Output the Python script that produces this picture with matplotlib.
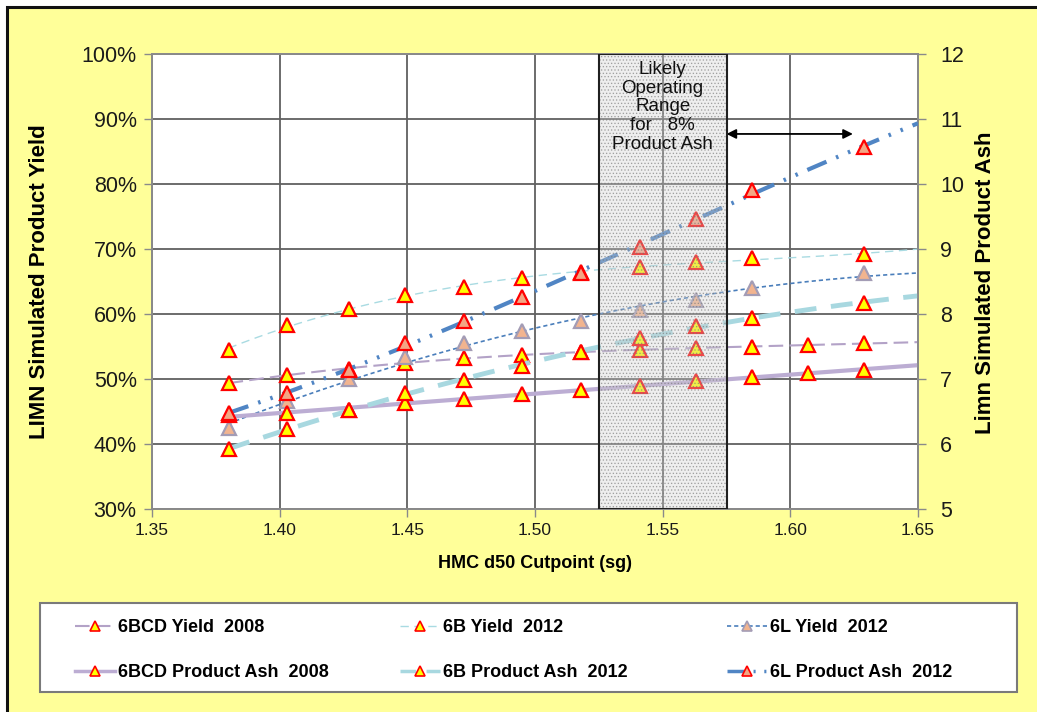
import numpy as np
import matplotlib
matplotlib.use('Agg')
import matplotlib.pyplot as plt
from matplotlib.lines import Line2D
from matplotlib.patches import Rectangle
from matplotlib.ticker import FuncFormatter

plt.rcParams['font.family'] = ['Liberation Sans', 'DejaVu Sans']
plt.rcParams['hatch.linewidth'] = 0.6

# ---------------- data ----------------
x_2008 = [1.380, 1.403, 1.427, 1.449, 1.472, 1.495, 1.518, 1.541, 1.563, 1.585, 1.607, 1.629]
x_2012 = [1.380, 1.403, 1.427, 1.449, 1.472, 1.495, 1.518, 1.541, 1.563, 1.585, 1.629]

bcd_yield_2008 = [49.4, 50.6, 51.5, 52.5, 53.2, 53.7, 54.2, 54.5, 54.8, 54.9, 55.2, 55.5]
bcd_ash_2008 = [6.44, 6.48, 6.52, 6.63, 6.69, 6.77, 6.83, 6.89, 6.97, 7.03, 7.09, 7.14]
b_yield_2012 = [54.5, 58.3, 60.8, 62.9, 64.2, 65.5, 66.4, 67.2, 68.0, 68.6, 69.2]
b_ash_2012 = [5.92, 6.23, 6.52, 6.78, 6.98, 7.20, 7.42, 7.63, 7.82, 7.94, 8.17]
l_yield_2012 = [42.4, 46.6, 50.0, 53.4, 55.5, 57.4, 58.9, 60.6, 62.2, 64.0, 66.3]
l_ash_2012 = [6.48, 6.78, 7.14, 7.55, 7.89, 8.26, 8.63, 9.03, 9.46, 9.91, 10.57]

series_labels = ['6BCD Yield  2008', '6BCD Product Ash  2008',
                 '6B Yield  2012', '6B Product Ash  2012',
                 '6L Yield  2012', '6L Product Ash  2012']

y_ticks_left = [30, 40, 50, 60, 70, 80, 90, 100]
y_ticks_right = [5, 6, 7, 8, 9, 10, 11, 12]
x_ticks = [1.35, 1.40, 1.45, 1.50, 1.55, 1.60, 1.65]

range_lo, range_hi = 1.525, 1.575
range_text = 'Likely\nOperating\nRange\nfor   8%\nProduct Ash'
arrow_x = (1.575, 1.6245)
arrow_y = 87.7

# ---------------- styles ----------------
YEL, RED = '#ffff00', '#ff0000'
styles = {
    '6BCD Yield  2008': dict(color='#b3a2c7', lw=1.5, dashes=(7, 3), mfc=YEL, mec=RED, deg=3),
    '6BCD Product Ash  2008': dict(color='#bcadd3', lw=3.0, dashes=None, mfc=YEL, mec=RED, deg=2),
    '6B Yield  2012': dict(color='#a9dbe2', lw=1.0, dashes=(6, 4), mfc=YEL, mec=RED, deg=3),
    '6B Product Ash  2012': dict(color='#a8d8e0', lw=3.5, dashes=(4.5, 3), mfc=YEL, mec=RED, deg=2),
    '6L Yield  2012': dict(color='#4a7ebb', lw=1.2, dashes=(2.5, 1.8), mfc='#f2b48f', mec='#a39cb5', deg=2),
    '6L Product Ash  2012': dict(color='#5085c4', lw=3.0, dashes=(5, 2.5, 0.6, 2.5, 0.6, 2.5), mfc='#f3a684', mec=RED, deg=3),
}

W, H = 1037, 712
fig = plt.figure(figsize=(W / 100, H / 100), dpi=100)
fig.patch.set_facecolor('white')
bg = Rectangle((7 / W, -0.05), 1.2, 1 - 7 / H + 0.05, transform=fig.transFigure,
               facecolor='#ffff99', edgecolor='#111111', lw=2.2, zorder=-10)
fig.add_artist(bg)

ax = fig.add_axes([152 / W, 1 - 509 / H, (918 - 152) / W, (509 - 54) / H])
ax.set_facecolor('white')
ax2 = ax.twinx()

ax.set_xlim(1.35, 1.65)
ax.set_ylim(30, 100)
ax2.set_ylim(5, 12)
ax.set_xticks(x_ticks)
ax.set_yticks(y_ticks_left)
ax2.set_yticks(y_ticks_right)
ax.yaxis.set_major_formatter(FuncFormatter(lambda v, p: f'{v:.0f}%'))
ax.xaxis.set_major_formatter(FuncFormatter(lambda v, p: f'{v:.2f}'))
ax2.yaxis.set_major_formatter(FuncFormatter(lambda v, p: f'{v:.0f}'))

ax.grid(True, color='#606060', lw=1.3)
ax.set_axisbelow(True)
for a in (ax, ax2):
    for s in a.spines.values():
        s.set_color('#8a8a8a')
        s.set_linewidth(1.3)
ax.tick_params(axis='y', labelsize=15.5, length=6, width=1, color='#8a8a8a', pad=5, labelcolor='#1a1a1a')
ax.tick_params(axis='x', labelsize=12.5, length=6, width=1, color='#8a8a8a', pad=4, labelcolor='#1a1a1a')
ax2.tick_params(axis='y', labelsize=15.5, length=6, width=1, color='#8a8a8a', pad=10, labelcolor='#1a1a1a')

ax.set_ylabel('LIMN Simulated Product Yield', fontsize=16, fontweight='bold')
ax2.set_ylabel('Limn Simulated Product Ash', fontsize=16, fontweight='bold')
ax.set_xlabel('HMC d50 Cutpoint (sg)', fontsize=13, fontweight='bold')
ax.yaxis.set_label_coords((50 - 152) / 766, 0.5)
ax2.yaxis.set_label_coords((975 - 152) / 766, 0.497)
ax.xaxis.set_label_coords(0.5, (509 - 555) / 455)


def draw(axis, x, y, label, z):
    st = styles[label]
    xs = np.linspace(x[0], 1.65, 300)
    coef = np.polyfit(x, y, st['deg'])
    ys = np.polyval(coef, xs)
    ln, = axis.plot(xs, ys, color=st['color'], lw=st['lw'], zorder=z,
                    solid_capstyle='butt', dash_capstyle='butt')
    if st['dashes']:
        ln.set_dashes(st['dashes'])
    axis.plot(x, y, ls='none', marker='^', ms=9.5, mfc=st['mfc'], mec=st['mec'], mew=1.6, zorder=z + 5)


draw(ax, x_2008, bcd_yield_2008, '6BCD Yield  2008', 2)
draw(ax, x_2012, b_yield_2012, '6B Yield  2012', 2)
draw(ax, x_2012, l_yield_2012, '6L Yield  2012', 2)
draw(ax2, x_2008, bcd_ash_2008, '6BCD Product Ash  2008', 2)
draw(ax2, x_2012, b_ash_2012, '6B Product Ash  2012', 2)
draw(ax2, x_2012, l_ash_2012, '6L Product Ash  2012', 3)

# shaded operating range (on top, semi-transparent stipple)
ax2.add_patch(Rectangle((range_lo, 0), range_hi - range_lo, 1, transform=ax2.get_xaxis_transform(),
                        facecolor=(0.82, 0.82, 0.82, 0.35), edgecolor=(0.45, 0.45, 0.45, 0.55),
                        lw=0, hatch='.....', zorder=20))
ax2.add_patch(Rectangle((range_lo, 0), range_hi - range_lo, 1, transform=ax2.get_xaxis_transform(),
                        fill=False, edgecolor='#202020', lw=1.5, zorder=21))
ax2.text((range_lo + range_hi) / 2, 0.985, range_text, transform=ax2.get_xaxis_transform(),
         ha='center', va='top', fontsize=13.5, linespacing=1.14, color='#111111', zorder=22)
ax.annotate('', xy=(arrow_x[0], arrow_y), xytext=(arrow_x[1], arrow_y),
            arrowprops=dict(arrowstyle='<|-|>', color='black', lw=1.3, mutation_scale=14,
                            shrinkA=0, shrinkB=0), zorder=25)
ax.set_zorder(1)
ax2.set_zorder(2)

# legend box
fig.add_artist(Rectangle((40 / W, 1 - 692 / H), (1017 - 40) / W, (692 - 603) / H, transform=fig.transFigure,
                         facecolor='white', edgecolor='#7a7a7a', lw=1.5, zorder=1))


def handle(label):
    st = styles[label]
    h = Line2D([], [], color=st['color'], lw=min(st['lw'], 2.5), marker='^', ms=7,
               mfc=st['mfc'], mec=st['mec'], mew=1.2)
    if st['dashes']:
        h.set_dashes(st['dashes'])
    return h


col_x = [75, 400, 727]
for i, cx in enumerate(col_x):
    labs = series_labels[2 * i:2 * i + 2]
    leg = fig.legend([handle(l) for l in labs], labs, loc='upper left',
                     bbox_to_anchor=(cx / W, 1 - 619 / H), frameon=False,
                     prop=dict(weight='bold', size=13), handlelength=2.2, handletextpad=0.2,
                     labelspacing=1.55, borderpad=0, borderaxespad=0)
    leg.set_zorder(5)

fig.savefig('out.png', dpi=100, facecolor=fig.get_facecolor())
